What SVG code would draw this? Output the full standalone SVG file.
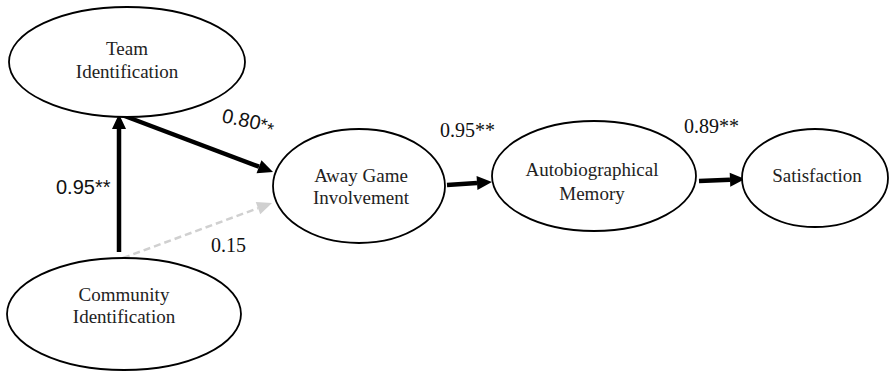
<svg xmlns="http://www.w3.org/2000/svg" width="890" height="371" viewBox="0 0 890 371">
<style>
.node ellipse{fill:#fff;stroke:#000;stroke-width:1.8}
.node text{font-family:"Liberation Serif","Times New Roman",serif;font-size:19px;fill:#222;text-anchor:middle}
.lbl{font-family:"Liberation Serif","Times New Roman",serif;font-size:20px;fill:#111}
.lbls{font-family:"Liberation Sans",Arial,sans-serif;font-size:20px;fill:#111}
.arr{stroke:#000;stroke-width:4.5;fill:none;marker-end:url(#ah)}
.dash{stroke:#d0d0d0;stroke-width:2.5;stroke-dasharray:7 4;fill:none;marker-end:url(#ahg)}
</style>
<defs>
<marker id="ah" markerUnits="userSpaceOnUse" markerWidth="15" markerHeight="14" refX="0" refY="7" orient="auto" overflow="visible">
<path d="M0,0 L15,7 L0,14 z" fill="#000"/>
</marker>
<marker id="ahg" markerUnits="userSpaceOnUse" markerWidth="15" markerHeight="13" refX="0" refY="6.5" orient="auto" overflow="visible">
<path d="M0,0 L15,6.5 L0,13 z" fill="#d0d0d0"/>
</marker>
</defs>
<rect width="890" height="371" fill="#fff"/>
<g id="connectors">
<line class="arr" x1="119" y1="252" x2="119" y2="129"/>
<line class="arr" x1="122" y1="115" x2="259" y2="166.7"/>
<line class="dash" x1="123" y1="258" x2="258" y2="208.2"/>
<line class="arr" x1="447" y1="185" x2="477" y2="183"/>
<line class="arr" x1="699" y1="181" x2="730" y2="179.7"/>
</g>
<g id="team" class="node">
<ellipse cx="127" cy="62" rx="118" ry="55"/>
<text x="127" y="55">Team</text>
<text x="127" y="78">Identification</text>
</g>
<g id="community" class="node">
<ellipse cx="124" cy="314" rx="117" ry="56"/>
<text x="124" y="301">Community</text>
<text x="124" y="323">Identification</text>
</g>
<g id="away" class="node">
<ellipse cx="359" cy="186" rx="86" ry="57"/>
<text x="361" y="182">Away Game</text>
<text x="361" y="204">Involvement</text>
</g>
<g id="memory" class="node">
<ellipse cx="594" cy="176" rx="102" ry="55"/>
<text x="592" y="176">Autobiographical</text>
<text x="592" y="200">Memory</text>
</g>
<g id="satisfaction" class="node">
<ellipse cx="815" cy="178" rx="73" ry="49"/>
<text x="817" y="182">Satisfaction</text>
</g>
<g id="labels">
<text class="lbls" x="56" y="194">0.95**</text>
<text class="lbls" transform="translate(221,122) rotate(12)">0.80<tspan font-size="18">*</tspan><tspan font-size="18" dy="3">*</tspan></text>
<text class="lbl" x="211" y="252">0.15</text>
<text class="lbl" x="440" y="137">0.95**</text>
<text class="lbl" x="684" y="133">0.89**</text>
</g>
</svg>
